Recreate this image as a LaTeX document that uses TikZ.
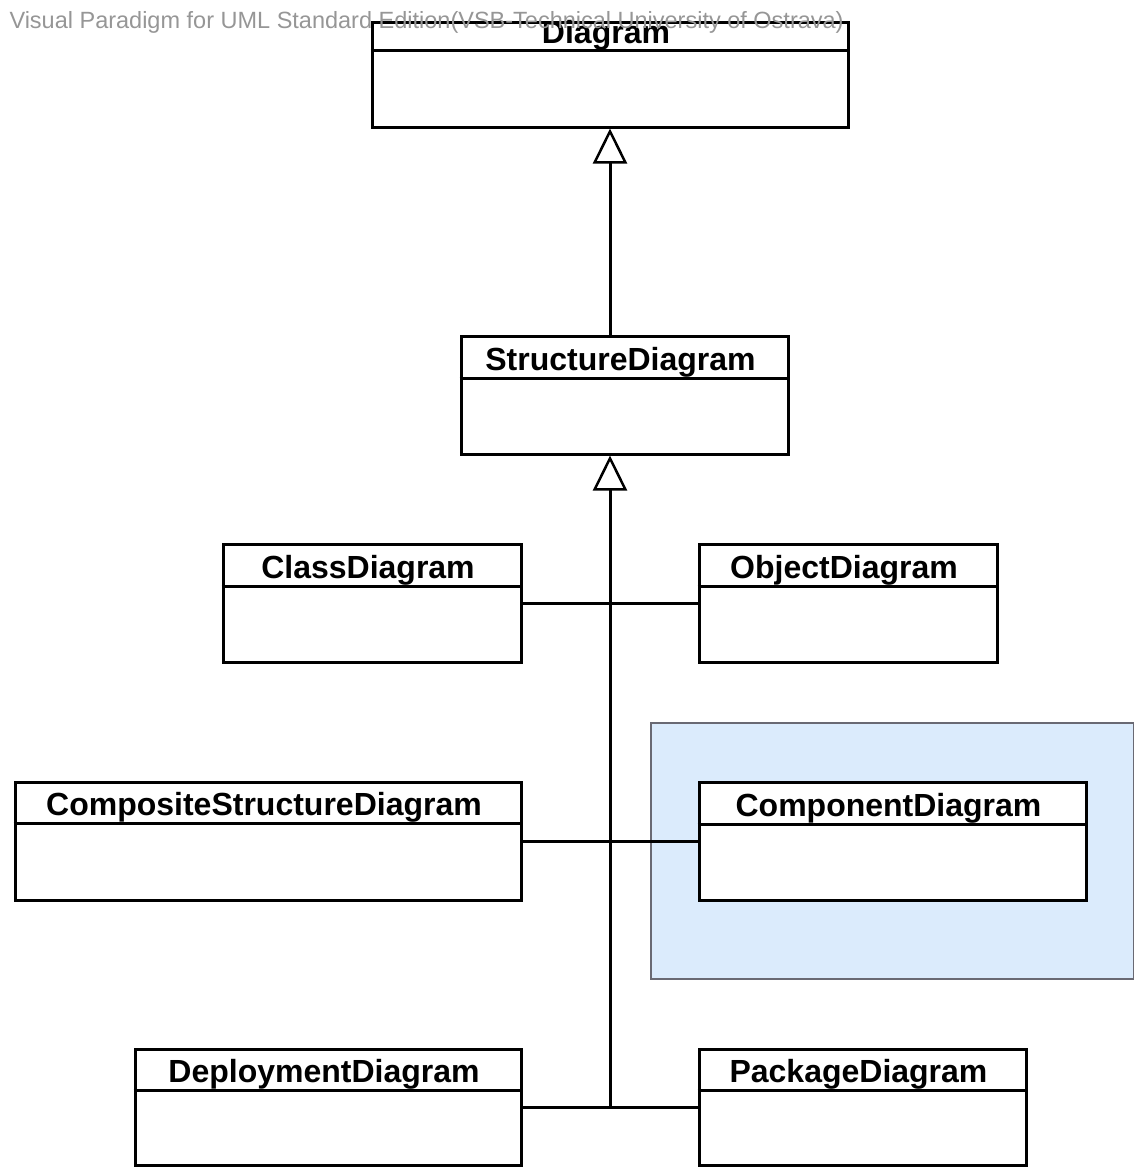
\documentclass[tikz,border=0pt]{standalone}
\usepackage{fontspec}
\setmainfont{Liberation Sans}
\usepackage{tikz}
\usetikzlibrary{arrows.meta}
\usetikzlibrary{backgrounds}
\usetikzlibrary{calc}

\definecolor{vpblue}{RGB}{219,235,252}
\definecolor{vpframe}{RGB}{105,105,115}
\definecolor{vpmark}{RGB}{150,150,150}

\begin{document}
\begin{tikzpicture}[x=1pt,y=-1pt,line width=3pt,
        gen/.style={-{Triangle[open,length=35pt,width=34pt,line width=2.5pt]},fill=white},
        cls/.style={rectangle,draw=black,fill=white,inner sep=0pt,line width=3pt},
        title/.style={inner sep=0pt,font=\bfseries\fontsize{32}{36}\selectfont}]

        \useasboundingbox (0,0) rectangle (1134,1167);

        % highlighted area round the component diagram
        \path[fill=vpblue,draw=vpframe,line width=1.5pt] (651,723) rectangle (1134,979);

        \foreach \n/\x/\y/\w/\h/\s/\t in {
            diag/610/74.5/476/105/30/Diagram,
            struct/624.5/395/327/118/44/StructureDiagram,
            class/372/603/298/118/44/ClassDiagram,
            object/848/603/298/118/44/ObjectDiagram,
            comp/268/841/506/118/43/CompositeStructureDiagram,
            compo/892.5/841/387/118/44/ComponentDiagram,
            deploy/328/1107/386/116/43/DeploymentDiagram,
            pkg/862.5/1107/327/116/43/PackageDiagram} {
          \node [cls,minimum width=\w pt,minimum height=\h pt] (\n) at (\x,\y) {};
          \draw ([yshift=-\s pt]\n.north west) -- ([yshift=-\s pt]\n.north east);
          \node [title] (\n-t) at ([xshift=-4pt,yshift=-(0.5*\s+0.43*(\s-30))*1pt]\n.north) {\t};
        }

        \coordinate (j) at (deploy.east -| diag.south);

        \draw[gen] (struct.north -| diag.south) -- (diag.south);
        \draw[gen] (j) -- (struct.south -| j);
        \draw (class.east)  -- (object.west);
        \draw (comp.east)   -- (compo.west);
        \draw (deploy.east) -- (pkg.west);

        \node [anchor=west,inner sep=0pt,text=vpmark,font=\fontsize{23.5}{26}\selectfont] (mark) at (8,22)
          {Visual Paradigm for UML Standard Edition(VSB-Technical University of Ostrava)};
\end{tikzpicture}
\end{document}
